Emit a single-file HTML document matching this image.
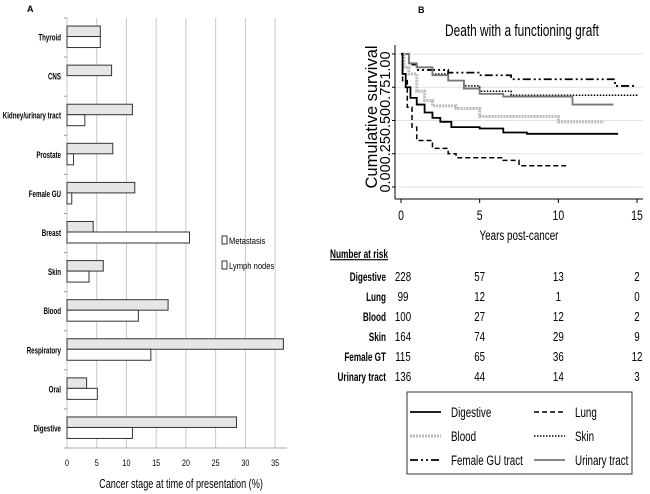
<!DOCTYPE html>
<html><head><meta charset="utf-8"><style>
body{margin:0;background:#fff}
svg{display:block}
text{font-family:"Liberation Sans",sans-serif}
</style></head><body>
<svg id="s" width="650" height="494">
<text x="27" y="12" font-size="9" font-weight="bold">A</text>
<text x="418" y="13" font-size="9" font-weight="bold">B</text>
<g id="A"></g>
<g id="B"></g>
</svg>
<script>
const NS="http://www.w3.org/2000/svg";
function mk(p,t,a){const e=document.createElementNS(NS,t);for(const k in a)e.setAttribute(k,a[k]);p.appendChild(e);return e;}
function cond(el,k){const x=parseFloat(el.getAttribute('x'));el.setAttribute('transform','translate('+(x*(1-k))+',0) scale('+k+',1)');}
// ---- Panel A data
const categories=["Thyroid","CNS","Kidney/urinary tract","Prostate","Female GU","Breast","Skin","Blood","Respiratory","Oral","Digestive"];
const metastasis=[5.6,7.5,11,7.7,11.4,4.4,6.1,17,36.4,3.3,28.5];
const lymphNodes=[5.6,0,3,1.1,0.8,20.6,3.7,12,14.1,5.1,11];
const xTicksA=[0,5,10,15,20,25,30,35];
// ---- Panel B data
const digT=[0,0.1,0.3,0.6,1,1.5,2,2.5,3.2,5,6.5,8,13.8];
const digS=[1,0.85,0.75,0.67,0.62,0.56,0.52,0.49,0.45,0.44,0.41,0.40,0.40];
const lungT=[0,0.1,0.4,0.7,1,2,3,3.5,6.5,7.5,10.5];
const lungS=[1,0.8,0.6,0.45,0.35,0.29,0.25,0.22,0.20,0.16,0.16];
const bloodT=[0,0.2,0.5,1,1.5,2,3.5,5,10,12.9];
const bloodS=[1,0.9,0.85,0.72,0.65,0.61,0.59,0.53,0.49,0.49];
const skinT=[0,0.5,1,2,3,4,5,7,15];
const skinS=[1,0.93,0.9,0.85,0.8,0.76,0.72,0.69,0.68];
const fguT=[0,0.5,1,3,5,7,13.6,15];
const fguS=[1,0.92,0.88,0.86,0.84,0.81,0.76,0.76];
const uriT=[0,0.5,1,2,3,4,5,6.5,10.9,13.5];
const uriS=[1,0.93,0.9,0.84,0.8,0.74,0.7,0.68,0.62,0.62];
const riskRows=["Digestive","Lung","Blood","Skin","Female GT","Urinary tract"];
const risk0=[228,99,100,164,115,136];
const risk5=[57,12,27,74,65,44];
const risk10=[13,1,12,29,36,14];
const risk15=[2,0,2,9,12,3];
const xTicksB=[0,5,10,15];
const yTicksB=[0,0.25,0.5,0.75,1];

// ---- Draw A
const A=document.getElementById('A');
const ax=v=>67+v*(220/37);
const plotTop=18,plotBot=448,band=(plotBot-plotTop)/categories.length;
xTicksA.forEach(v=>{
 const g=mk(A,'line',{x1:ax(v),x2:ax(v),y1:plotTop,y2:plotBot,stroke:'#c8c8c8','stroke-width':1});
 
 
 const t=mk(A,'text',{x:ax(v),y:466,'font-size':9,'text-anchor':'middle'});t.textContent=v;cond(t,0.8);
 
 
});
mk(A,'line',{x1:67,x2:287,y1:plotBot,y2:plotBot,stroke:'#aaa'});
for(let i=0;i<=categories.length;i++)mk(A,'line',{x1:64,x2:67,y1:plotTop+i*band,y2:plotTop+i*band,stroke:'#999'});
categories.forEach((c,i)=>{
 const yc=plotTop+band*(i+0.5);
 const t=mk(A,'text',{x:61,y:yc+3,'font-size':9.5,'text-anchor':'end','font-weight':'bold'});t.textContent=c;cond(t,0.65);
 
 
 const b1=mk(A,'rect',{x:ax(0),y:yc-11.5,width:ax(metastasis[i])-ax(0),height:10.5,fill:'#e6e6e6',stroke:'#333','stroke-width':1});
 
 
 if(lymphNodes[i]>0){const b2=mk(A,'rect',{x:ax(0),y:yc-1,width:ax(lymphNodes[i])-ax(0),height:11,fill:'#fff',stroke:'#333','stroke-width':1});
 
 }
});
[["Metastasis",244],["Lymph nodes",269]].forEach(([n,y])=>{
 const r=mk(A,'rect',{x:222,y:y-8,width:5,height:8,fill:'#fff',stroke:'#333'});
 
 
 const t=mk(A,'text',{x:229,y:y,'font-size':9.5});t.textContent=n;cond(t,0.8);
 
 
});
const xt=mk(A,'text',{x:181,y:488,'font-size':12.5,'text-anchor':'middle'});xt.textContent="Cancer stage at time of presentation (%)";cond(xt,0.73);



// ---- Draw B
const B=document.getElementById('B');
const bx=t=>401+t*(236/15), by=s=>187-s*133;
const ti=mk(B,'text',{x:522,y:36,'font-size':17,'text-anchor':'middle'});ti.textContent="Death with a functioning graft";cond(ti,0.7);


yTicksB.forEach(v=>{const l=mk(B,'line',{x1:395,x2:643,y1:by(v),y2:by(v),stroke:'#d6e6ea'});
 
 
 mk(B,'line',{x1:392,x2:395,y1:by(v),y2:by(v),stroke:'#000'});});
mk(B,'line',{x1:395,x2:395,y1:45,y2:199,stroke:'#000'});
mk(B,'line',{x1:395,x2:643,y1:199,y2:199,stroke:'#000'});
const yl=mk(B,'text',{x:0,y:0,'font-size':14.5,'text-anchor':'middle',transform:'translate(390,122) rotate(-90)'});
yl.textContent=yTicksB.map(v=>v.toFixed(2)).join('');


const yt=mk(B,'text',{x:0,y:0,'font-size':16.5,'text-anchor':'middle',transform:'translate(377,117) rotate(-90)'});
yt.textContent="Cumulative survival";


xTicksB.forEach(v=>{mk(B,'line',{x1:bx(v),x2:bx(v),y1:199,y2:203,stroke:'#000'});
 const t=mk(B,'text',{x:bx(v),y:220,'font-size':14,'text-anchor':'middle'});t.textContent=v;cond(t,0.75);
 
 });
const xb=mk(B,'text',{x:519,y:240,'font-size':13.5,'text-anchor':'middle'});xb.textContent="Years post-cancer";cond(xb,0.73);


const styles={dig:{stroke:'#000','stroke-width':1.8},lung:{stroke:'#000','stroke-width':1.5,'stroke-dasharray':'5,3'},
 blood:{stroke:'#bbb','stroke-width':3,'stroke-dasharray':'2,1'},skin:{stroke:'#000','stroke-width':1.5,'stroke-dasharray':'1.5,1.5'},
 fgu:{stroke:'#000','stroke-width':1.8,'stroke-dasharray':'8,3,2,3,2,3'},uri:{stroke:'#777','stroke-width':1.8}};
function step(T,S,st,name){let d='M'+bx(T[0])+','+by(S[0]);
 for(let i=1;i<T.length;i++){d+=' H'+bx(T[i])+' V'+by(S[i]);}
 const p=mk(B,'path',Object.assign({d:d,fill:'none'},st));
 
 }
step(fguT,fguS,styles.fgu,'line-female-gu');step(skinT,skinS,styles.skin,'line-skin');
step(uriT,uriS,styles.uri,'line-urinary');step(bloodT,bloodS,styles.blood,'line-blood');
step(digT,digS,styles.dig,'line-digestive');step(lungT,lungS,styles.lung,'line-lung');
// risk table
const nr=mk(B,'text',{x:330,y:258,'font-size':11.5,'font-weight':'bold','text-decoration':'underline'});nr.textContent="Number at risk";cond(nr,0.72);


const cols=[risk0,risk5,risk10,risk15];
riskRows.forEach((r,i)=>{const y=281+i*20;
 const t=mk(B,'text',{x:386,y:y,'font-size':12,'font-weight':'bold','text-anchor':'end'});t.textContent=r;cond(t,0.68);
 
 
 cols.forEach((c,j)=>{const v=mk(B,'text',{x:bx(xTicksB[j])+(j==0?2:0),y:y,'font-size':13,'text-anchor':'middle'});v.textContent=c[i];cond(v,0.75);
  
  });
});
// legend
const lb=mk(B,'rect',{x:407,y:392,width:225,height:82,fill:'#fff',stroke:'#333'});


[["Digestive",'dig',0,0],["Lung",'lung',1,0],["Blood",'blood',0,1],["Skin",'skin',1,1],["Female GU tract",'fgu',0,2],["Urinary tract",'uri',1,2]].forEach(([n,k,c,r])=>{
 const y=412+r*24, x0=c?534:410;
 const l=mk(B,'line',Object.assign({x1:x0,x2:x0+31,y1:y,y2:y},styles[k]));
 
 
 const t=mk(B,'text',{x:x0+41,y:y+5,'font-size':14});t.textContent=n;cond(t,0.7);
 
 
});
</script>
</body></html>
